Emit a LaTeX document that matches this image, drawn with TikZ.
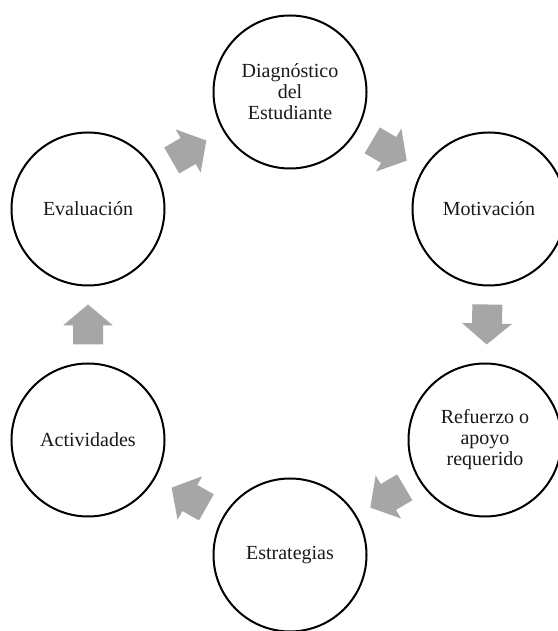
\documentclass[tikz,border=0pt]{standalone}
\usepackage{fontspec}
\setmainfont{Liberation Serif}
\usetikzlibrary{calc}
\definecolor{arrowgray}{RGB}{166,166,166}
\tikzstyle{stage} = [circle, draw, line width=2pt, minimum size=153pt, inner sep=0pt, align=center, font=\fontsize{20}{21}\selectfont, text=black!90]
\tikzset{
    pics/flowarrow/.style={ % block arrow pointing along +x, centred on the pic origin
        code={
            \fill[arrowgray] (-20,-15) -- (-1,-15) -- (-1,-25) -- (20,0) -- (-1,25) -- (-1,15) -- (-20,15) -- cycle;
        }
    }
}
\begin{document}
\begin{tikzpicture}[x=1pt, y=1pt]
        \useasboundingbox (0,0) rectangle (557,631);

        \node[stage] (D) at (290,539) {Diagnóstico\\del\\Estudiante};
        \node[stage] (M) at (489,422) {Motivación};
        \node[stage] (R) at (485,191) {Refuerzo o\\apoyo\\requerido};
        \node[stage] (E) at (290,76) {Estrategias};
        \node[stage] (A) at (88,191) {Actividades};
        \node[stage] (V) at (88,422) {Evaluación};

        \foreach \a/\b in {V/D, D/M, M/R, R/E, E/A, A/V}
            \path let \p1=($(\b)-(\a)$), \n1={atan2(\y1,\x1)} in
                ($(\a)!0.5!(\b)$) pic[rotate=\n1] {flowarrow};

\end{tikzpicture}
\end{document}
